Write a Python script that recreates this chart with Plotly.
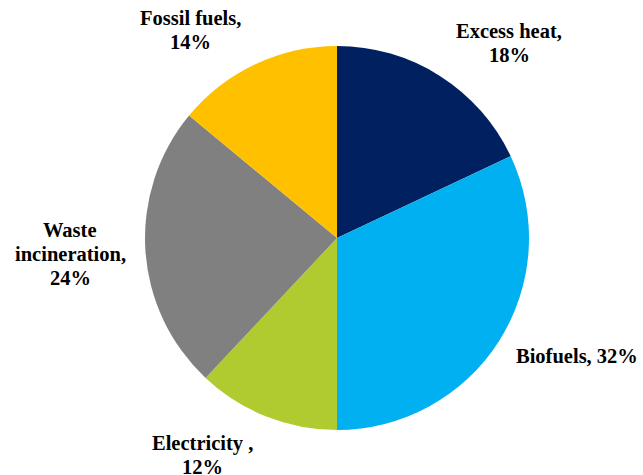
import plotly.graph_objects as go

# sources of district heat, share in %
sources = ["Excess heat", "Biofuels", "Electricity", "Waste incineration", "Fossil fuels"]
shares = [18, 32, 12, 24, 14]
colors = ["#002060", "#00B0F0", "#B0CB2F", "#808080", "#FFC000"]

# label lines as drawn around the pie
label_lines = [
    ["Excess heat,", "18%"],
    ["Biofuels, 32%"],
    ["Electricity ,", "12%"],
    ["Waste", "incineration,", "24%"],
    ["Fossil fuels,", "14%"],
]
# where each label block sits (pixel x centre, y of first line)
label_pos = [(509, 31), (577, 356), (202, 443), (70, 230), (190, 18)]

W, H = 643, 475

fig = go.Figure(go.Pie(
    labels=sources,
    values=shares,
    sort=False,
    direction="clockwise",
    rotation=0,
    marker=dict(colors=colors, line=dict(width=0)),
    textinfo="none",
    hoverinfo="label+percent",
    domain=dict(x=[145 / W, 529 / W], y=[45 / H, 429 / H]),
))

fnt = dict(family="Liberation Serif", size=20.5, color="#000000")
for lines, (px, py) in zip(label_lines, label_pos):
    for k, line in enumerate(lines):
        fig.add_annotation(
            text="<b>" + line + "</b>",
            x=px / W, y=1 - (py + 24 * k) / H,
            xref="paper", yref="paper",
            xanchor="center", yanchor="middle",
            showarrow=False, font=fnt,
        )

fig.update_layout(
    width=W, height=H,
    margin=dict(l=0, r=0, t=0, b=0),
    showlegend=False,
    paper_bgcolor="white",
    plot_bgcolor="white",
)

# drop the page's default body margin so the figure sits at the corner
fig.write_html("out.html", config={"displayModeBar": False},
               post_script="document.body.style.margin='0';document.body.style.overflow='hidden';")
